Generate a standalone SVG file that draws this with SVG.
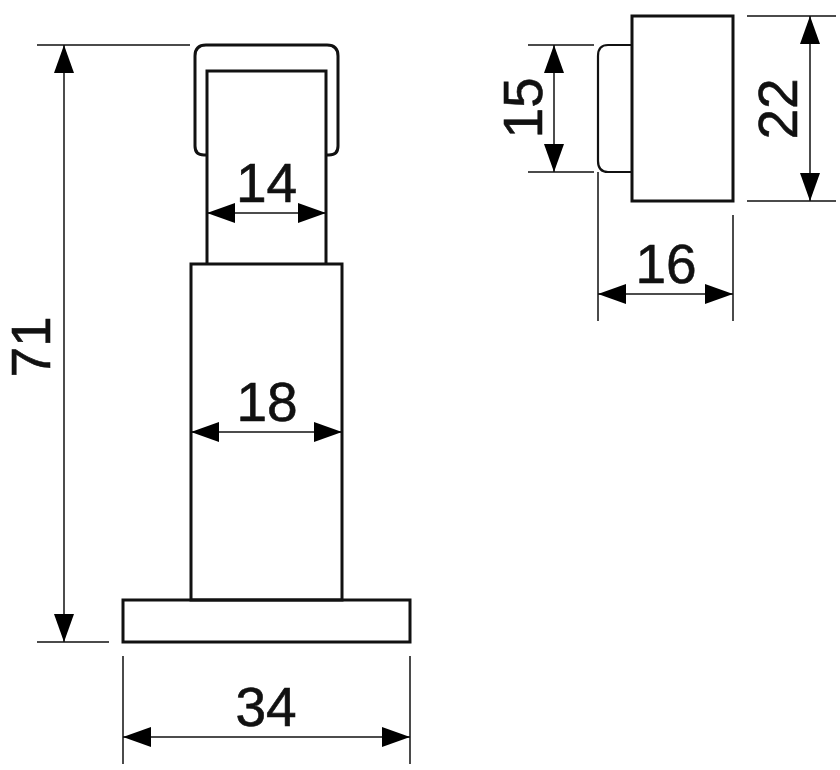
<svg xmlns="http://www.w3.org/2000/svg" width="840" height="770" viewBox="0 0 840 770">
<style>
.part{fill:none;stroke:#111;stroke-width:3;stroke-linejoin:miter}
.cap{fill:none;stroke:#111;stroke-width:2.2}
.thin{fill:none;stroke:#111;stroke-width:1.5}
.dim{fill:none;stroke:#111;stroke-width:1.5;marker-start:url(#a);marker-end:url(#a)}
text{font-family:"Liberation Sans",Arial,sans-serif;font-size:55px;fill:#111;stroke:#111;stroke-width:0.6;text-anchor:middle}
</style>
<defs>
<marker id="a" viewBox="0 0 28 20" refX="28" refY="10" markerWidth="28" markerHeight="20" markerUnits="userSpaceOnUse" orient="auto-start-reverse"><path d="M0 0L28 10L0 20Z" fill="#000"/></marker>
</defs>
<rect width="840" height="770" fill="#fff"/>
<g id="stop-body">
<path class="part" d="M207 155H204Q195 155 195 146V56Q195 45 206 45H327Q338 45 338 56V146Q338 155 329 155H326"/>
<path class="part" d="M207 264V71H326V264"/>
<rect class="part" x="191" y="264" width="151" height="336"/>
<rect class="part" x="123" y="600" width="287" height="42"/>
</g>
<g id="stop-head">
<path class="cap" d="M632 45H608Q598 45 598 56V161Q598 172 608 172H632"/>
<rect class="part" x="632" y="16" width="101" height="185"/>
</g>
<g id="connectors">
<path class="thin" d="M37 45H190M37 642H109M123 656V764M410 656V764M207 207V240M528 45H594M528 172H594M747 16H836M747 201H836M598 172V321M733 215V321"/>
<line class="dim" x1="64" y1="45" x2="64" y2="642"/>
<line class="dim" x1="207" y1="213" x2="326" y2="213"/>
<line class="dim" x1="191" y1="432" x2="342" y2="432"/>
<line class="dim" x1="123" y1="737" x2="410" y2="737"/>
<line class="dim" x1="554" y1="45" x2="554" y2="172"/>
<line class="dim" x1="810" y1="16" x2="810" y2="201"/>
<line class="dim" x1="598" y1="294" x2="733" y2="294"/>
</g>
<g id="labels">
<text x="266.500" y="202">14</text>
<text x="267" y="421">18</text>
<text x="266" y="726">34</text>
<text x="666" y="283">16</text>
<text transform="translate(50 347) rotate(-90)">71</text>
<text transform="translate(542 108) rotate(-90)">15</text>
<text transform="translate(797 109) rotate(-90)">22</text>
</g>
</svg>
